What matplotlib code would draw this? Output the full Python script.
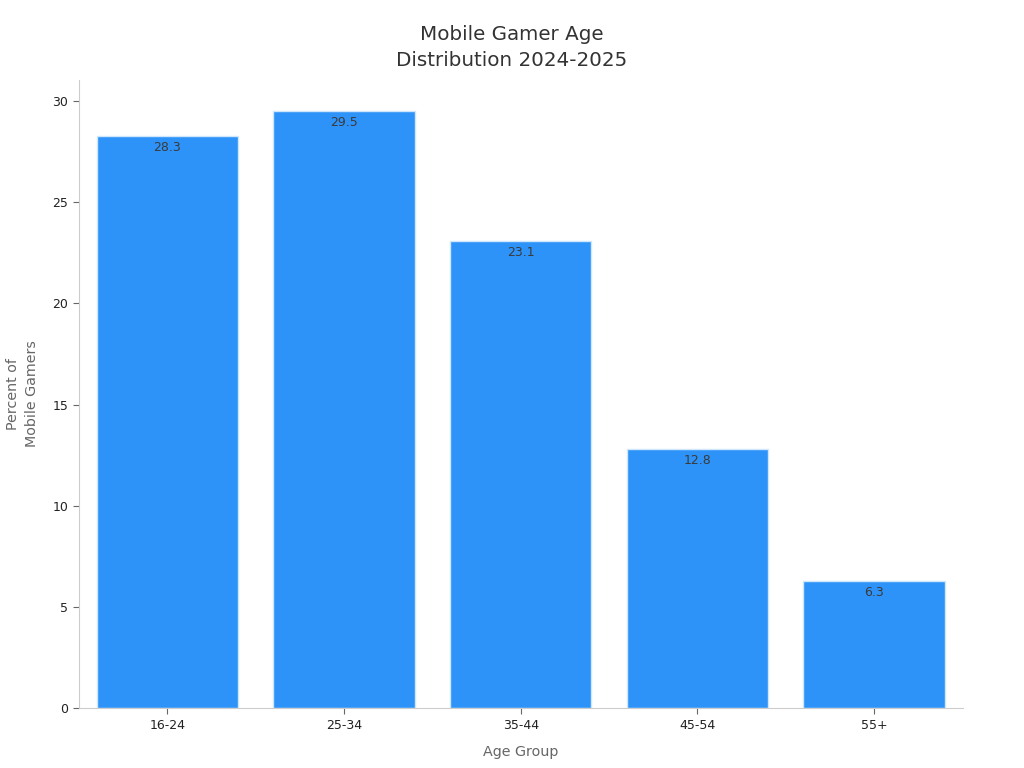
import matplotlib
matplotlib.use("Agg")
import matplotlib.pyplot as plt

age_groups = ["16-24", "25-34", "35-44", "45-54", "55+"]
percent = [28.3, 29.5, 23.1, 12.8, 6.3]

fig = plt.figure(figsize=(10.24, 7.68), dpi=100)
ax = fig.add_axes([0.077, 0.078, 0.863, 0.818])

bars = ax.bar(range(len(age_groups)), percent, width=0.8, color="#2E93F8",
              edgecolor="#CFE6FB", linewidth=1)

for b, v in zip(bars, percent):
    ax.text(b.get_x() + b.get_width() / 2, v - 0.25, "{}".format(v),
            ha="center", va="top", fontsize=9, color="#3a3a3a")

ax.set_xlim(-0.5, 4.5)
ax.set_ylim(0, 31.05)
ax.set_xticks(range(len(age_groups)))
ax.set_xticklabels(age_groups)
ax.set_yticks([0, 5, 10, 15, 20, 25, 30])

ax.tick_params(axis="both", labelsize=9, colors="#222222", length=4, color="#666666")
for s in ["top", "right"]:
    ax.spines[s].set_visible(False)
for s in ["left", "bottom"]:
    ax.spines[s].set_color("#CCCCCC")

ax.set_xlabel("Age Group", fontsize=10.3, color="#666666", labelpad=10)
ax.set_ylabel("Percent of\nMobile Gamers", fontsize=10.3, color="#666666", labelpad=10,
              linespacing=1.4)
fig.suptitle("Mobile Gamer Age\nDistribution 2024-2025", fontsize=14.3, color="#333333",
             y=0.968, linespacing=1.5)

fig.savefig("out.png", dpi=100)
